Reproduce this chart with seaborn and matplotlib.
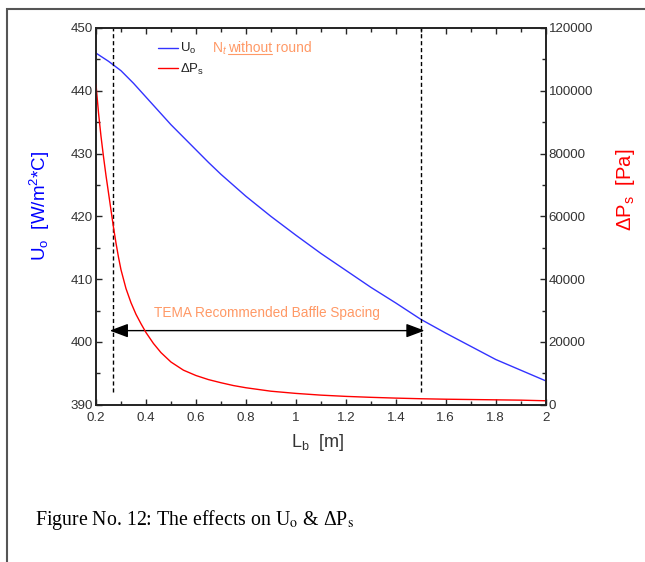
import numpy as np
import pandas as pd
import matplotlib
matplotlib.use("Agg")
import matplotlib.pyplot as plt
import seaborn as sns
from matplotlib.patches import Rectangle
from matplotlib.lines import Line2D
from matplotlib.ticker import MultipleLocator, FuncFormatter

# baffle spacing L_b [m] and overall coefficient U_o [W/m2*C]
lb_u = [0.2, 0.25, 0.3, 0.35, 0.4, 0.45, 0.5, 0.55, 0.6, 0.65, 0.7, 0.8, 0.9, 1.0, 1.1,
        1.2, 1.3, 1.4, 1.5, 1.6, 1.7, 1.8, 1.9, 2.0]
u_o = [446.0, 444.7, 443.2, 441.2, 439.0, 436.8, 434.6, 432.6, 430.6, 428.6, 426.7, 423.2,
       420.0, 417.0, 414.1, 411.4, 408.7, 406.2, 403.6, 401.4, 399.3, 397.2, 395.5, 393.8]

# shell side pressure drop dP_s [Pa]
lb_p = [0.2, 0.21, 0.22, 0.23, 0.24, 0.25, 0.26, 0.27, 0.28, 0.29, 0.3, 0.32, 0.34, 0.36,
        0.38, 0.4, 0.43, 0.46, 0.5, 0.55, 0.6, 0.65, 0.7, 0.75, 0.8, 0.9, 1.0, 1.1, 1.2,
        1.3, 1.4, 1.5, 1.6, 1.7, 1.8, 1.9, 2.0]
dp_s = [102000, 93000, 85500, 79000, 73000, 67500, 62000, 56500, 51500, 47000, 43000,
        37000, 32500, 28800, 25800, 23000, 19500, 16600, 13600, 11000, 9300, 8000, 7000,
        6100, 5400, 4300, 3600, 3050, 2650, 2350, 2100, 1900, 1750, 1650, 1550, 1450, 1250]

tema_lo, tema_hi = 0.27, 1.5

df_u = pd.DataFrame({"Lb": lb_u, "Uo": u_o})
df_p = pd.DataFrame({"Lb": lb_p, "dP": dp_s})

sns.set_style("ticks")
plt.rcParams["font.family"] = ["Liberation Sans", "DejaVu Sans"]
plt.rcParams["mathtext.fontset"] = "custom"
plt.rcParams["mathtext.rm"] = "Liberation Sans"
plt.rcParams["mathtext.it"] = "Liberation Sans:italic"

fig = plt.figure(figsize=(6.45, 5.62), dpi=100)
ax = fig.add_axes([96 / 645, 1 - 404.7 / 562, 449.7 / 645, 376.7 / 562])
ax2 = ax.twinx()

sns.lineplot(data=df_u, x="Lb", y="Uo", ax=ax, color="#3333ff", lw=1, label="U$_\\mathrm{o}$", legend=False)
sns.lineplot(data=df_p, x="Lb", y="dP", ax=ax2, color="#ff0000", lw=1, label="$\\Delta$P$_\\mathrm{s}$", legend=False)

ax.set_xlim(0.2, 2)
ax.set_ylim(390, 450)
ax2.set_ylim(0, 120000)
ax.xaxis.set_major_locator(MultipleLocator(0.2))
ax.xaxis.set_minor_locator(MultipleLocator(0.1))
ax.xaxis.set_major_formatter(FuncFormatter(lambda v, p: "%g" % round(v, 2)))
ax.yaxis.set_major_locator(MultipleLocator(10))
ax.yaxis.set_minor_locator(MultipleLocator(5))
ax2.yaxis.set_major_locator(MultipleLocator(20000))
ax2.yaxis.set_minor_locator(MultipleLocator(10000))
ax2.yaxis.set_major_formatter(FuncFormatter(lambda v, p: "%d" % v))

for a in (ax, ax2):
    for s in a.spines.values():
        s.set_linewidth(1.2)
        s.set_color("#222222")
ax.tick_params(which="both", direction="in", top=True, right=False, labelsize=9.6,
               labelcolor="#333333", pad=2)
ax.tick_params(axis="x", which="both", pad=5)
ax.tick_params(which="major", length=4, width=1)
ax.tick_params(which="minor", length=3, width=1)
ax2.tick_params(which="both", direction="in", labelsize=9.6, labelcolor="#333333", pad=2)
ax2.tick_params(which="major", length=4, width=1)
ax2.tick_params(which="minor", length=3, width=1)

ax.set_xlabel("L$_\\mathrm{b}$  [m]", fontsize=13, color="#333333")
ax.xaxis.set_label_coords(0.494, -0.072)
ax.set_ylabel("U$_\\mathrm{o}$  [W/m$^2$*C]", fontsize=13.5, color="#0000ff")
ax.yaxis.set_label_coords(-0.098, 0.527)
ax2.set_ylabel("$\\Delta$P$_\\mathrm{s}$  [Pa]", fontsize=14.5, color="#ff0000")
ax2.yaxis.set_label_coords(1.152, 0.57)

# TEMA range markers
ax.vlines([tema_lo, tema_hi], 392, 450, colors="black", linestyles=(0, (3, 2)), lw=1)
ax.annotate("", xy=(tema_lo - 0.015, 401.8), xytext=(tema_hi + 0.015, 401.8),
            arrowprops=dict(arrowstyle="<|-|>,head_length=0.8,head_width=0.3", color="black",
                            lw=1, mutation_scale=14, shrinkA=0, shrinkB=0))
ax.text(0.884, 404.6, "TEMA Recommended Baffle Spacing", color="#ff9966", fontsize=9.8,
        ha="center", va="center")

h1, l1 = ax.get_legend_handles_labels()
h2, l2 = ax2.get_legend_handles_labels()
leg = ax2.legend(h1 + h2, l1 + l2, loc="upper left", bbox_to_anchor=(0.138, 0.965), frameon=False,
                 fontsize=9.5, handlelength=1.5, handletextpad=0.2, labelspacing=0.4, borderpad=0,
                 borderaxespad=0)
for t in leg.get_texts():
    t.set_color("#222222")

orange = "#ff9966"
t1 = ax2.text(0.259, 0.936, "N$_t$ ", transform=ax.transAxes, color=orange, fontsize=10,
              va="baseline")
t2 = ax2.annotate("without", xy=(1, 0.936), xycoords=(t1, ax.transAxes), va="baseline",
                  ha="left", color=orange, fontsize=10)
t3 = ax2.annotate(" round", xy=(1, 0.936), xycoords=(t2, ax.transAxes), va="baseline",
                  ha="left", color=orange, fontsize=10)

fig.text(35 / 645, 1 - 520 / 562, "Figure No. 12: The effects on U$_\\mathrm{o}$ & \u0394P$_\\mathrm{s}$",
         fontsize=14.3, family="Liberation Serif", math_fontfamily="stix", va="center", color="black")

fig.add_artist(Rectangle((7 / 645, -0.1), 2, 1 - 9 / 562 + 0.1, transform=fig.transFigure,
                         fill=False, edgecolor="#555555", lw=1.5))

fig.canvas.draw()
bb = t2.get_window_extent()
fig.add_artist(Line2D([bb.x0, bb.x1], [bb.y0 + 1, bb.y0 + 1], transform=None, color=orange, lw=0.8))

fig.savefig("out.png", dpi=100)
